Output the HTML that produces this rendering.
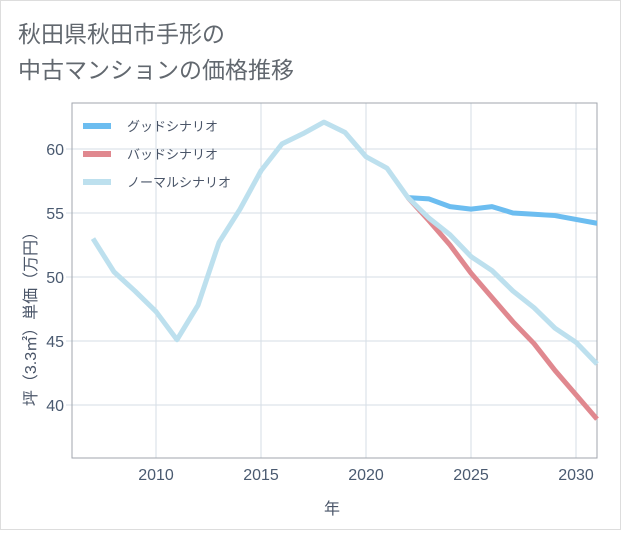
<!DOCTYPE html>
<html><head><meta charset="utf-8"><style>
body{margin:0;background:#fff;}
#wrap{position:relative;width:621px;height:530px;font-family:"Liberation Sans","Noto Sans CJK JP",sans-serif;}
</style></head><body>
<div id="wrap">
<svg id="chart" width="621" height="530" xmlns="http://www.w3.org/2000/svg">
<rect x="0.5" y="0.5" width="620" height="529" fill="#fff" stroke="#ddd"/>
<text x="18" y="42" font-size="23" fill="#62686f" font-family="Liberation Sans, Noto Sans CJK JP, sans-serif">秋田県秋田市手形の</text>
<text x="18" y="78" font-size="23" fill="#62686f" font-family="Liberation Sans, Noto Sans CJK JP, sans-serif">中古マンションの価格推移</text>
<g id="grid"></g>
<rect x="72" y="103" width="525" height="355" fill="none" stroke="#a0a6ae" stroke-width="1"/>
<g id="series"></g>
<g id="legend"></g>
<text x="332" y="514" font-size="16" fill="#4a5568" text-anchor="middle" font-family="Liberation Sans, Noto Sans CJK JP, sans-serif">年</text>
<text transform="translate(36,315) rotate(-90)" font-size="16" fill="#4a5568" text-anchor="middle" font-family="Liberation Sans, Noto Sans CJK JP, sans-serif">坪（3.3㎡）単価（万円）</text>
</svg>
</div>
<script>
const xTicks=[2010,2015,2020,2025,2030];
const yTicks=[40,45,50,55,60];
const normalYears=[2007,2008,2009,2010,2011,2012,2013,2014,2015,2016,2017,2018,2019,2020,2021,2022,2023,2024,2025,2026,2027,2028,2029,2030,2031];
const normalValues=[53,50.4,48.9,47.3,45.1,47.8,52.7,55.3,58.3,60.4,61.2,62.1,61.3,59.4,58.5,56.2,54.6,53.3,51.6,50.5,48.9,47.6,46.0,44.9,43.2];
const scenarioYears=[2022,2023,2024,2025,2026,2027,2028,2029,2030,2031];
const goodValues=[56.2,56.1,55.5,55.3,55.5,55.0,54.9,54.8,54.5,54.2];
const badValues=[56.2,54.4,52.5,50.3,48.4,46.5,44.8,42.7,40.8,38.9];
const legendLabels=["グッドシナリオ","バッドシナリオ","ノーマルシナリオ"];
const NS="http://www.w3.org/2000/svg";
const xs=y=>156+(y-2010)*21;
const ys=v=>149+(60-v)*12.8;
const grid=document.getElementById('grid');
xTicks.forEach(t=>{
 const l=document.createElementNS(NS,'line');
 
 
 l.setAttribute('x1',xs(t));l.setAttribute('x2',xs(t));l.setAttribute('y1',103);l.setAttribute('y2',458);
 l.setAttribute('stroke','#d5dde5');grid.appendChild(l);
 const tx=document.createElementNS(NS,'text');
 
 
 tx.setAttribute('x',xs(t));tx.setAttribute('y',480);tx.setAttribute('text-anchor','middle');
 tx.setAttribute('font-size','16');tx.setAttribute('fill','#4a5a70');tx.textContent=t;grid.appendChild(tx);
});
yTicks.forEach(t=>{
 const l=document.createElementNS(NS,'line');
 
 
 l.setAttribute('x1',66);l.setAttribute('x2',597);l.setAttribute('y1',ys(t));l.setAttribute('y2',ys(t));
 l.setAttribute('stroke','#d5dde5');grid.appendChild(l);
 const tx=document.createElementNS(NS,'text');
 
 
 tx.setAttribute('x',64);tx.setAttribute('y',ys(t)+6);tx.setAttribute('text-anchor','end');
 tx.setAttribute('font-size','16');tx.setAttribute('fill','#4a5a70');tx.textContent=t;grid.appendChild(tx);
});
const series=document.getElementById('series');
function line(years,vals,color,name){
 const p=document.createElementNS(NS,'polyline');
 
 
 p.setAttribute('points',years.map((y,i)=>xs(y)+','+ys(vals[i])).join(' '));
 p.setAttribute('fill','none');p.setAttribute('stroke',color);p.setAttribute('stroke-width','5');
 p.setAttribute('stroke-linejoin','round');
 series.appendChild(p);
}
line(scenarioYears,goodValues,'#6cbdf0','good-scenario-line');
line(scenarioYears,badValues,'#e0888f','bad-scenario-line');
line(normalYears,normalValues,'#bde0ee','normal-scenario-line');
const lg=document.getElementById('legend');
const lc=['#6cbdf0','#e0888f','#bde0ee'];
legendLabels.forEach((lab,i)=>{
 const y=126+i*28;
 const l=document.createElementNS(NS,'line');
 
 
 l.setAttribute('x1',83);l.setAttribute('x2',111);l.setAttribute('y1',y);l.setAttribute('y2',y);
 l.setAttribute('stroke',lc[i]);l.setAttribute('stroke-width','6');lg.appendChild(l);
 const t=document.createElementNS(NS,'text');
 
 
 t.setAttribute('x',127);t.setAttribute('y',y+5);t.setAttribute('font-size','13');
 t.setAttribute('fill','#4a5568');t.textContent=lab;lg.appendChild(t);
});
</script>
</body></html>
